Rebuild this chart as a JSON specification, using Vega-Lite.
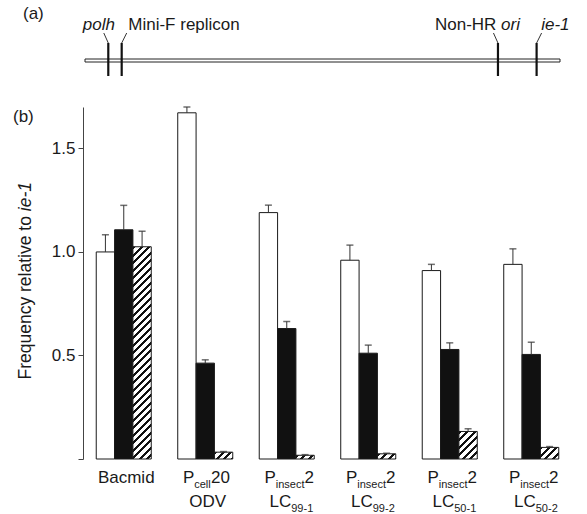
{
  "$schema": "https://vega.github.io/schema/vega-lite/v6.json",
  "padding": {"left": 13, "top": 0, "right": 0, "bottom": 0},
  "background": "white",
  "params": [
    {"name": "hatchStops", "value": [
      {"offset": 0, "color": "#111"}, {"offset": 0.0129, "color": "#111"}, {"offset": 0.0129, "color": "#fff"}, {"offset": 0.0323, "color": "#fff"},
      {"offset": 0.0323, "color": "#111"}, {"offset": 0.0452, "color": "#111"}, {"offset": 0.0452, "color": "#fff"}, {"offset": 0.0645, "color": "#fff"},
      {"offset": 0.0645, "color": "#111"}, {"offset": 0.0774, "color": "#111"}, {"offset": 0.0774, "color": "#fff"}, {"offset": 0.0968, "color": "#fff"},
      {"offset": 0.0968, "color": "#111"}, {"offset": 0.1097, "color": "#111"}, {"offset": 0.1097, "color": "#fff"}, {"offset": 0.1290, "color": "#fff"},
      {"offset": 0.1290, "color": "#111"}, {"offset": 0.1419, "color": "#111"}, {"offset": 0.1419, "color": "#fff"}, {"offset": 0.1613, "color": "#fff"},
      {"offset": 0.1613, "color": "#111"}, {"offset": 0.1742, "color": "#111"}, {"offset": 0.1742, "color": "#fff"}, {"offset": 0.1935, "color": "#fff"},
      {"offset": 0.1935, "color": "#111"}, {"offset": 0.2065, "color": "#111"}, {"offset": 0.2065, "color": "#fff"}, {"offset": 0.2258, "color": "#fff"},
      {"offset": 0.2258, "color": "#111"}, {"offset": 0.2387, "color": "#111"}, {"offset": 0.2387, "color": "#fff"}, {"offset": 0.2581, "color": "#fff"},
      {"offset": 0.2581, "color": "#111"}, {"offset": 0.2710, "color": "#111"}, {"offset": 0.2710, "color": "#fff"}, {"offset": 0.2903, "color": "#fff"},
      {"offset": 0.2903, "color": "#111"}, {"offset": 0.3032, "color": "#111"}, {"offset": 0.3032, "color": "#fff"}, {"offset": 0.3226, "color": "#fff"},
      {"offset": 0.3226, "color": "#111"}, {"offset": 0.3355, "color": "#111"}, {"offset": 0.3355, "color": "#fff"}, {"offset": 0.3548, "color": "#fff"},
      {"offset": 0.3548, "color": "#111"}, {"offset": 0.3677, "color": "#111"}, {"offset": 0.3677, "color": "#fff"}, {"offset": 0.3871, "color": "#fff"},
      {"offset": 0.3871, "color": "#111"}, {"offset": 0.4000, "color": "#111"}, {"offset": 0.4000, "color": "#fff"}, {"offset": 0.4194, "color": "#fff"},
      {"offset": 0.4194, "color": "#111"}, {"offset": 0.4323, "color": "#111"}, {"offset": 0.4323, "color": "#fff"}, {"offset": 0.4516, "color": "#fff"},
      {"offset": 0.4516, "color": "#111"}, {"offset": 0.4645, "color": "#111"}, {"offset": 0.4645, "color": "#fff"}, {"offset": 0.4839, "color": "#fff"},
      {"offset": 0.4839, "color": "#111"}, {"offset": 0.4968, "color": "#111"}, {"offset": 0.4968, "color": "#fff"}, {"offset": 0.5161, "color": "#fff"},
      {"offset": 0.5161, "color": "#111"}, {"offset": 0.5290, "color": "#111"}, {"offset": 0.5290, "color": "#fff"}, {"offset": 0.5484, "color": "#fff"},
      {"offset": 0.5484, "color": "#111"}, {"offset": 0.5613, "color": "#111"}, {"offset": 0.5613, "color": "#fff"}, {"offset": 0.5806, "color": "#fff"},
      {"offset": 0.5806, "color": "#111"}, {"offset": 0.5935, "color": "#111"}, {"offset": 0.5935, "color": "#fff"}, {"offset": 0.6129, "color": "#fff"},
      {"offset": 0.6129, "color": "#111"}, {"offset": 0.6258, "color": "#111"}, {"offset": 0.6258, "color": "#fff"}, {"offset": 0.6452, "color": "#fff"},
      {"offset": 0.6452, "color": "#111"}, {"offset": 0.6581, "color": "#111"}, {"offset": 0.6581, "color": "#fff"}, {"offset": 0.6774, "color": "#fff"},
      {"offset": 0.6774, "color": "#111"}, {"offset": 0.6903, "color": "#111"}, {"offset": 0.6903, "color": "#fff"}, {"offset": 0.7097, "color": "#fff"},
      {"offset": 0.7097, "color": "#111"}, {"offset": 0.7226, "color": "#111"}, {"offset": 0.7226, "color": "#fff"}, {"offset": 0.7419, "color": "#fff"},
      {"offset": 0.7419, "color": "#111"}, {"offset": 0.7548, "color": "#111"}, {"offset": 0.7548, "color": "#fff"}, {"offset": 0.7742, "color": "#fff"},
      {"offset": 0.7742, "color": "#111"}, {"offset": 0.7871, "color": "#111"}, {"offset": 0.7871, "color": "#fff"}, {"offset": 0.8065, "color": "#fff"},
      {"offset": 0.8065, "color": "#111"}, {"offset": 0.8194, "color": "#111"}, {"offset": 0.8194, "color": "#fff"}, {"offset": 0.8387, "color": "#fff"},
      {"offset": 0.8387, "color": "#111"}, {"offset": 0.8516, "color": "#111"}, {"offset": 0.8516, "color": "#fff"}, {"offset": 0.8710, "color": "#fff"},
      {"offset": 0.8710, "color": "#111"}, {"offset": 0.8839, "color": "#111"}, {"offset": 0.8839, "color": "#fff"}, {"offset": 0.9032, "color": "#fff"},
      {"offset": 0.9032, "color": "#111"}, {"offset": 0.9161, "color": "#111"}, {"offset": 0.9161, "color": "#fff"}, {"offset": 0.9355, "color": "#fff"},
      {"offset": 0.9355, "color": "#111"}, {"offset": 0.9484, "color": "#111"}, {"offset": 0.9484, "color": "#fff"}, {"offset": 0.9677, "color": "#fff"},
      {"offset": 0.9677, "color": "#111"}, {"offset": 0.9806, "color": "#111"}, {"offset": 0.9806, "color": "#fff"}, {"offset": 1, "color": "#fff"}
    ]}
  ],
  "datasets": {
    "bars": [
      {"cat": "Bacmid", "series": "open", "value": 1.0, "errTop": 1.083},
      {"cat": "Bacmid", "series": "filled", "value": 1.107, "errTop": 1.225},
      {"cat": "Bacmid", "series": "hatched", "value": 1.025, "errTop": 1.1},
      {"cat": "Pcell20 ODV", "series": "open", "value": 1.672, "errTop": 1.7},
      {"cat": "Pcell20 ODV", "series": "filled", "value": 0.463, "errTop": 0.479},
      {"cat": "Pcell20 ODV", "series": "hatched", "value": 0.033, "errTop": 0.036},
      {"cat": "Pinsect2 LC99-1", "series": "open", "value": 1.19, "errTop": 1.226},
      {"cat": "Pinsect2 LC99-1", "series": "filled", "value": 0.63, "errTop": 0.664},
      {"cat": "Pinsect2 LC99-1", "series": "hatched", "value": 0.018, "errTop": 0.021},
      {"cat": "Pinsect2 LC99-2", "series": "open", "value": 0.96, "errTop": 1.033},
      {"cat": "Pinsect2 LC99-2", "series": "filled", "value": 0.511, "errTop": 0.55},
      {"cat": "Pinsect2 LC99-2", "series": "hatched", "value": 0.025, "errTop": 0.028},
      {"cat": "Pinsect2 LC50-1", "series": "open", "value": 0.91, "errTop": 0.94},
      {"cat": "Pinsect2 LC50-1", "series": "filled", "value": 0.529, "errTop": 0.561},
      {"cat": "Pinsect2 LC50-1", "series": "hatched", "value": 0.133, "errTop": 0.146},
      {"cat": "Pinsect2 LC50-2", "series": "open", "value": 0.94, "errTop": 1.015},
      {"cat": "Pinsect2 LC50-2", "series": "filled", "value": 0.505, "errTop": 0.564},
      {"cat": "Pinsect2 LC50-2", "series": "hatched", "value": 0.056, "errTop": 0.06}
    ],
    "labels": [
      {"cat": "Bacmid", "l1c": "Bacmid"},
      {"cat": "Pcell20 ODV", "l1p": "P", "l1s": "cell", "l1q": "20", "l2c": "ODV"},
      {"cat": "Pinsect2 LC99-1", "l1p": "P", "l1s": "insect", "l1q": "2", "l2p": "LC", "l2s": "99-1"},
      {"cat": "Pinsect2 LC99-2", "l1p": "P", "l1s": "insect", "l1q": "2", "l2p": "LC", "l2s": "99-2"},
      {"cat": "Pinsect2 LC50-1", "l1p": "P", "l1s": "insect", "l1q": "2", "l2p": "LC", "l2s": "50-1"},
      {"cat": "Pinsect2 LC50-2", "l1p": "P", "l1s": "insect", "l1q": "2", "l2p": "LC", "l2s": "50-2"}
    ],
    "genome": [{"genome": "AcMNPV bacmid", "start": 0, "end": 134}],
    "features": [
      {"feature": "polh", "pos": 6.57, "italic": "polh"},
      {"feature": "Mini-F replicon", "pos": 10.35, "normal": "Mini-F replicon"},
      {"feature": "Non-HR ori", "pos": 116.5, "normal": "Non-HR", "italic": "ori"},
      {"feature": "ie-1", "pos": 127.4, "italic": "ie-1"}
    ]
  },
  "spacing": 27,
  "bounds": "flush",
  "vconcat": [
    {
      "width": 489,
      "height": 80,
      "title": {"text": "(a)", "anchor": "start", "frame": "group", "dx": -60, "dy": 36, "offset": 0, "baseline": "alphabetic", "fontSize": 17, "fontWeight": "normal", "color": "#1a1a1a"},
      "layer": [
        {
          "data": {"name": "genome"},
          "mark": {"type": "rule", "strokeOpacity": 0, "strokeWidth": 0},
          "encoding": {
            "x": {"field": "start", "type": "quantitative", "scale": {"domain": [0, 134], "range": [2, 477], "zero": false, "nice": false}, "axis": null},
            "x2": {"field": "end"},
            "y": {"datum": 0, "type": "quantitative", "scale": {"domain": [0, 80], "range": [0, 80], "zero": false, "nice": false}, "axis": null}
          }
        },
        {
          "data": {"name": "genome"},
          "mark": {"type": "rect", "fill": "white", "stroke": "#222", "strokeWidth": 1},
          "encoding": {
            "x": {"field": "start", "type": "quantitative", "axis": null},
            "x2": {"field": "end"},
            "y": {"datum": 59, "type": "quantitative", "axis": null},
            "y2": {"datum": 62}
          }
        },
        {
          "data": {"name": "features"},
          "mark": {"type": "rule", "strokeWidth": 2.2, "color": "#111"},
          "encoding": {
            "x": {"field": "pos", "type": "quantitative", "axis": null},
            "y": {"datum": 43, "type": "quantitative", "axis": null},
            "y2": {"datum": 76}
          }
        },
        {
          "data": {"name": "features"},
          "transform": [{"filter": "datum.feature == 'polh' || datum.feature == 'Non-HR ori'"}],
          "mark": {"type": "rule", "strokeWidth": 1, "color": "#333", "xOffset": -4.5},
          "encoding": {
            "x": {"field": "pos", "type": "quantitative", "axis": null},
            "x2": {"field": "pos"},
            "y": {"datum": 33, "type": "quantitative", "axis": null},
            "y2": {"datum": 43}
          }
        },
        {
          "data": {"name": "features"},
          "transform": [{"filter": "datum.feature == 'Mini-F replicon' || datum.feature == 'ie-1'"}],
          "mark": {"type": "rule", "strokeWidth": 1, "color": "#333", "xOffset": 5},
          "encoding": {
            "x": {"field": "pos", "type": "quantitative", "axis": null},
            "x2": {"field": "pos"},
            "y": {"datum": 33, "type": "quantitative", "axis": null},
            "y2": {"datum": 43}
          }
        },
        {
          "data": {"name": "features"},
          "transform": [{"filter": "datum.feature == 'polh'"}],
          "mark": {"type": "text", "align": "right", "baseline": "alphabetic", "dx": 6.7, "fontSize": 17, "fontStyle": "italic", "color": "#1a1a1a"},
          "encoding": {
            "x": {"field": "pos", "type": "quantitative", "axis": null},
            "y": {"datum": 29.5, "type": "quantitative", "axis": null},
            "text": {"field": "italic"}
          }
        },
        {
          "data": {"name": "features"},
          "transform": [{"filter": "datum.feature == 'Mini-F replicon'"}],
          "mark": {"type": "text", "align": "left", "baseline": "alphabetic", "dx": 6.6, "fontSize": 17, "color": "#1a1a1a"},
          "encoding": {
            "x": {"field": "pos", "type": "quantitative", "axis": null},
            "y": {"datum": 29.5, "type": "quantitative", "axis": null},
            "text": {"field": "normal"}
          }
        },
        {
          "data": {"name": "features"},
          "transform": [{"filter": "datum.feature == 'Non-HR ori'"}],
          "mark": {"type": "text", "align": "right", "baseline": "alphabetic", "dx": -1.6, "fontSize": 17, "color": "#1a1a1a"},
          "encoding": {
            "x": {"field": "pos", "type": "quantitative", "axis": null},
            "y": {"datum": 29.5, "type": "quantitative", "axis": null},
            "text": {"field": "normal"}
          }
        },
        {
          "data": {"name": "features"},
          "transform": [{"filter": "datum.feature == 'Non-HR ori'"}],
          "mark": {"type": "text", "align": "right", "baseline": "alphabetic", "dx": 22, "fontSize": 17, "fontStyle": "italic", "color": "#1a1a1a"},
          "encoding": {
            "x": {"field": "pos", "type": "quantitative", "axis": null},
            "y": {"datum": 29.5, "type": "quantitative", "axis": null},
            "text": {"field": "italic"}
          }
        },
        {
          "data": {"name": "features"},
          "transform": [{"filter": "datum.feature == 'ie-1'"}],
          "mark": {"type": "text", "align": "left", "baseline": "alphabetic", "dx": 4.6, "fontSize": 17, "fontStyle": "italic", "color": "#1a1a1a"},
          "encoding": {
            "x": {"field": "pos", "type": "quantitative", "axis": null},
            "y": {"datum": 29.5, "type": "quantitative", "axis": null},
            "text": {"field": "italic"}
          }
        }
      ]
    },
    {
      "width": 489,
      "height": 352,
      "title": {"text": "(b)", "anchor": "start", "frame": "group", "dx": -70, "dy": 33, "offset": 0, "baseline": "alphabetic", "fontSize": 17, "fontWeight": "normal", "color": "#1a1a1a"},
      "resolve": {"axis": {"y": "independent"}},
      "layer": [
        {
          "data": {"name": "bars"},
          "mark": {"type": "bar", "stroke": "#1a1a1a", "strokeWidth": 1},
          "encoding": {
            "x": {"field": "cat", "type": "nominal", "sort": null,
                  "scale": {"domain": ["Bacmid", "Pcell20 ODV", "Pinsect2 LC99-1", "Pinsect2 LC99-2", "Pinsect2 LC50-1", "Pinsect2 LC50-2"], "paddingInner": 0.325, "paddingOuter": 0.1625},
                  "axis": {"labels": false, "title": null, "tickBand": "extent", "tickSize": 5, "domainColor": "#444", "tickColor": "#444", "grid": false}},
            "xOffset": {"field": "series", "type": "nominal", "sort": null, "scale": {"domain": ["open", "filled", "hatched"], "paddingInner": 0, "paddingOuter": 0}},
            "y": {"field": "value", "type": "quantitative", "scale": {"domain": [0, 1.7], "nice": false},
                  "axis": {"orient": "left", "values": [0, 0.5, 1, 1.5], "labelExpr": "datum.value == 0 ? '' : format(datum.value, '.1f')", "grid": false, "domainColor": "#444", "tickColor": "#444", "tickSize": 5, "labelPadding": 3, "labelFontSize": 17, "labelColor": "#1a1a1a",
                           "title": "Frequency relative to", "titleFontSize": 17.5, "titleFontWeight": "normal", "titleColor": "#1a1a1a", "titleX": -52.5, "titleY": 272, "titleAlign": "left", "titleAngle": 270, "titleBaseline": "alphabetic"}},
            "fill": {
              "condition": {"test": "datum.series === 'hatched'", "value": {"expr": "{gradient: 'linear', x1: 0, y1: 0, x2: 18.33*232.5/(336.0 + pow(datum.value*207.06, 2)), y2: datum.value*207.06*232.5/(336.0 + pow(datum.value*207.06, 2)), stops: hatchStops}"}},
              "field": "series", "type": "nominal",
              "scale": {"domain": ["open", "filled", "hatched"], "range": ["#ffffff", "#111111", "#ffffff"]},
              "legend": null
            }
          }
        },
        {
          "data": {"name": "bars"},
          "mark": {"type": "rule", "color": "#333", "strokeWidth": 1},
          "encoding": {
            "x": {"field": "cat", "type": "nominal", "sort": null, "axis": null},
            "xOffset": {"field": "series", "type": "nominal", "sort": null},
            "y": {"field": "value", "type": "quantitative", "scale": {"domain": [0, 1.7], "nice": false},
                  "axis": {"orient": "left", "domain": false, "ticks": false, "labels": false, "grid": false,
                           "title": "ie-1", "titleFontSize": 17.5, "titleFontWeight": "normal", "titleFontStyle": "italic", "titleColor": "#1a1a1a", "titleX": -52.5, "titleY": 103.7, "titleAlign": "left", "titleAngle": 270, "titleBaseline": "alphabetic"}},
            "y2": {"field": "errTop"}
          }
        },
        {
          "data": {"name": "bars"},
          "mark": {"type": "tick", "color": "#333", "size": 7, "thickness": 1.5},
          "encoding": {
            "x": {"field": "cat", "type": "nominal", "sort": null, "axis": null},
            "xOffset": {"field": "series", "type": "nominal", "sort": null},
            "y": {"field": "errTop", "type": "quantitative", "scale": {"domain": [0, 1.7], "nice": false}, "axis": null}
          }
        },
        {
          "data": {"name": "labels"},
          "transform": [{"filter": "isValid(datum.l1c)"}],
          "mark": {"type": "text", "align": "center", "baseline": "alphabetic", "dx": 2.5, "dy": 24, "fontSize": 17, "color": "#1a1a1a"},
          "encoding": {"x": {"field": "cat", "type": "nominal", "sort": null, "axis": null}, "y": {"datum": 0, "type": "quantitative", "axis": null}, "text": {"field": "l1c"}}
        },
        {
          "data": {"name": "labels"},
          "transform": [{"filter": "isValid(datum.l1p)"}],
          "mark": {"type": "text", "align": "right", "baseline": "alphabetic", "dx": -11, "dy": 24, "fontSize": 17, "color": "#1a1a1a"},
          "encoding": {"x": {"field": "cat", "type": "nominal", "sort": null, "axis": null}, "y": {"datum": 0, "type": "quantitative", "axis": null}, "text": {"field": "l1p"}}
        },
        {
          "data": {"name": "labels"},
          "transform": [{"filter": "isValid(datum.l1s)"}],
          "mark": {"type": "text", "align": "left", "baseline": "alphabetic", "dx": -11, "dy": 28.5, "fontSize": 11, "color": "#1a1a1a"},
          "encoding": {"x": {"field": "cat", "type": "nominal", "sort": null, "axis": null}, "y": {"datum": 0, "type": "quantitative", "axis": null}, "text": {"field": "l1s"}}
        },
        {
          "data": {"name": "labels"},
          "transform": [{"filter": "datum.l1s == 'cell'"}],
          "mark": {"type": "text", "align": "left", "baseline": "alphabetic", "dx": 5.8, "dy": 24, "fontSize": 17, "color": "#1a1a1a"},
          "encoding": {"x": {"field": "cat", "type": "nominal", "sort": null, "axis": null}, "y": {"datum": 0, "type": "quantitative", "axis": null}, "text": {"field": "l1q"}}
        },
        {
          "data": {"name": "labels"},
          "transform": [{"filter": "datum.l1s == 'insect'"}],
          "mark": {"type": "text", "align": "left", "baseline": "alphabetic", "dx": 17.8, "dy": 24, "fontSize": 17, "color": "#1a1a1a"},
          "encoding": {"x": {"field": "cat", "type": "nominal", "sort": null, "axis": null}, "y": {"datum": 0, "type": "quantitative", "axis": null}, "text": {"field": "l1q"}}
        },
        {
          "data": {"name": "labels"},
          "transform": [{"filter": "isValid(datum.l2c)"}],
          "mark": {"type": "text", "align": "center", "baseline": "alphabetic", "dx": 2.5, "dy": 48, "fontSize": 17, "color": "#1a1a1a"},
          "encoding": {"x": {"field": "cat", "type": "nominal", "sort": null, "axis": null}, "y": {"datum": 0, "type": "quantitative", "axis": null}, "text": {"field": "l2c"}}
        },
        {
          "data": {"name": "labels"},
          "transform": [{"filter": "isValid(datum.l2p)"}],
          "mark": {"type": "text", "align": "right", "baseline": "alphabetic", "dx": 4.5, "dy": 48, "fontSize": 17, "color": "#1a1a1a"},
          "encoding": {"x": {"field": "cat", "type": "nominal", "sort": null, "axis": null}, "y": {"datum": 0, "type": "quantitative", "axis": null}, "text": {"field": "l2p"}}
        },
        {
          "data": {"name": "labels"},
          "transform": [{"filter": "isValid(datum.l2s)"}],
          "mark": {"type": "text", "align": "left", "baseline": "alphabetic", "dx": 4.5, "dy": 53, "fontSize": 11, "color": "#1a1a1a"},
          "encoding": {"x": {"field": "cat", "type": "nominal", "sort": null, "axis": null}, "y": {"datum": 0, "type": "quantitative", "axis": null}, "text": {"field": "l2s"}}
        }
      ]
    }
  ],
  "config": {
    "view": {"stroke": null, "fill": "white"},
    "font": "Liberation Sans",
    "axis": {"labelFont": "Liberation Sans", "titleFont": "Liberation Sans"},
    "title": {"font": "Liberation Sans"},
    "text": {"font": "Liberation Sans"}
  }
}
